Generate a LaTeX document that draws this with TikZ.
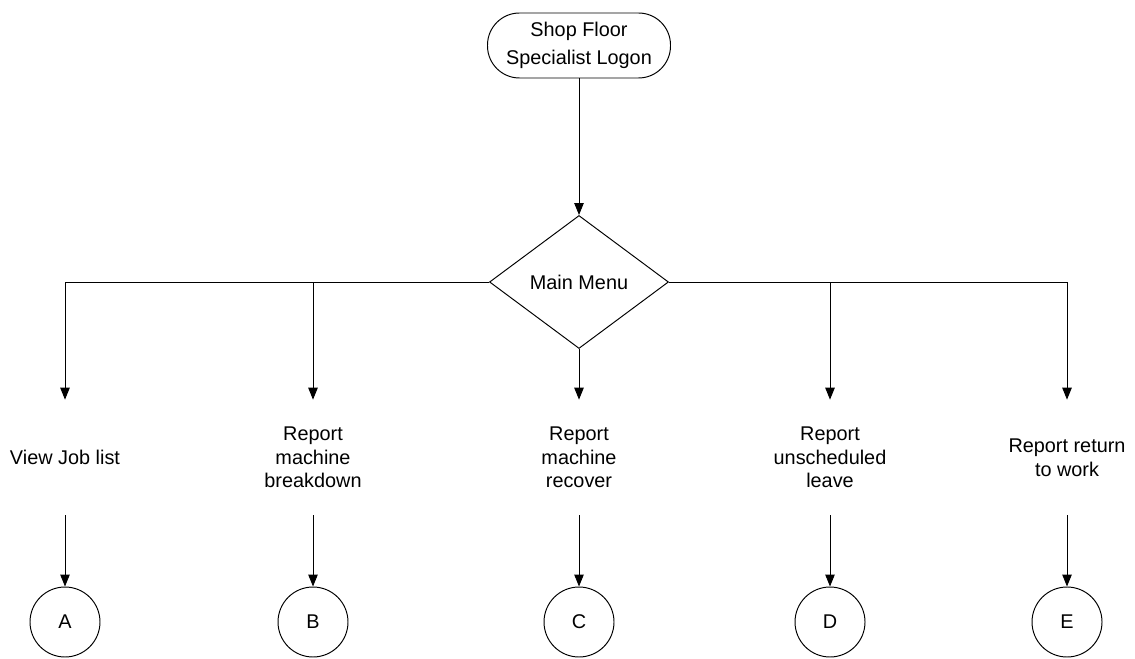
\documentclass[tikz,border=0pt]{standalone}
\usepackage{fontspec}
\setmainfont{Liberation Sans}
\usetikzlibrary{shapes.geometric,arrows.meta}

\tikzset{
	flow/.style={line width=0.55pt, -{Triangle[length=2.4mm,width=1.9mm]}},
	startbox/.style={draw, line width=0.55pt, rectangle, rounded corners=0.64cm, minimum width=3.66cm, minimum height=1.3cm, align=center, font=\fontsize{11.3}{16}\selectfont},
	menubox/.style={draw, line width=0.55pt, diamond, inner sep=0pt, minimum width=3.58cm, minimum height=2.66cm, font=\fontsize{11.3}{13.5}\selectfont},
	actionlbl/.style={align=center, minimum height=2.3cm, inner sep=0pt, font=\fontsize{11.3}{13.5}\selectfont},
	connector/.style={draw, line width=0.55pt, circle, minimum size=1.4cm, inner sep=0pt, font=\fontsize{11.3}{13.5}\selectfont}
}

\begin{document}
\begin{tikzpicture}
			\useasboundingbox (0,0) rectangle (22.7,13.16);
			\node[startbox] (logon) at (11.58,12.25) {Shop Floor\\Specialist Logon};
			\node[menubox] (menu) at (11.58,7.52) {Main Menu};
			\draw[flow] (logon) -- (menu);
			% actions under the main menu
			\node[actionlbl] (joblist) at (1.3,4.01) {View Job list};
			\node[actionlbl] (breakdown) at (6.26,4.01) {Report\\machine\\breakdown};
			\node[actionlbl] (recover) at (11.58,4.01) {Report\\machine\\recover};
			\node[actionlbl] (leave) at (16.6,4.01) {Report\\unscheduled\\leave};
			\node[actionlbl] (backwork) at (21.34,4.01) {Report return\\to work};
			\draw[flow] (menu.west) -| (joblist);
			\draw[flow] (menu.west) -| (breakdown);
			\draw[flow] (menu) -- (recover);
			\draw[flow] (menu.east) -| (leave);
			\draw[flow] (menu.east) -| (backwork);
			% off-page connectors
			\foreach \lbl/\name/\x in {joblist/A/1.3, breakdown/B/6.26, recover/C/11.58, leave/D/16.6, backwork/E/21.34} {
				\node[connector] (con\name) at (\x,0.72) {\name};
				\draw[flow] (\lbl) -- (con\name);
			}
\end{tikzpicture}
\end{document}
